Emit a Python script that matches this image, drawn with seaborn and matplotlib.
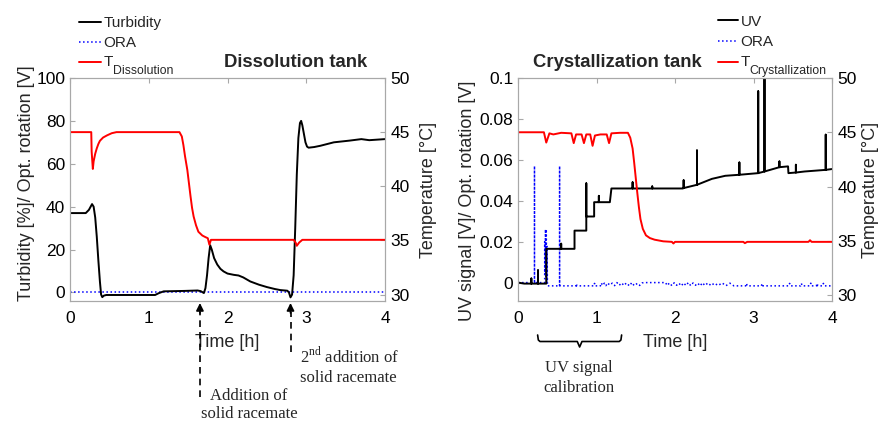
import numpy as np
import pandas as pd
import matplotlib
matplotlib.use("Agg")
import matplotlib.pyplot as plt
import matplotlib.transforms as mtransforms
from matplotlib.lines import Line2D
import seaborn as sns

# ---------------- data: dissolution tank ----------------
turb_t = [0, 0.20, 0.24, 0.28, 0.30, 0.32, 0.34, 0.36, 0.38, 0.395, 0.41, 0.43, 0.46, 1.08, 1.13, 1.19,
          1.45, 1.62, 1.66, 1.70, 1.72, 1.74, 1.76, 1.78, 1.80, 1.83, 1.87, 1.91, 1.95, 2.00, 2.08, 2.14,
          2.20, 2.29, 2.40, 2.50, 2.60, 2.67, 2.76, 2.78, 2.80, 2.82, 2.84, 2.86, 2.88, 2.90, 2.92, 2.935,
          2.95, 2.97, 2.99, 3.01, 3.03, 3.10, 3.18, 3.35, 3.55, 3.70, 3.80, 4.0]
turb_v = [37, 37, 38.5, 41.2, 40, 35, 26, 15, 5, -1, -2.2, -1.5, -1.2, -1.2, -0.3, 0.5,
          0.7, 0.9, 0.6, -0.3, 2, 8, 16, 22, 20, 16, 13, 11, 9.8, 8.8, 8.2, 7.9,
          7.0, 5.1, 3.6, 2.5, 1.6, 1.1, 0.8, 0, -2.3, -1, 8, 30, 55, 72, 79, 80,
          78, 74, 70, 68, 67.5, 67.8, 68.4, 70, 70.8, 71.5, 71, 71.5]

tdis_t = [0, 0.27, 0.275, 0.29, 0.30, 0.32, 0.34, 0.36, 0.38, 0.42, 0.47, 0.53, 0.59, 1.39, 1.42,
          1.44, 1.46, 1.49, 1.51, 1.53, 1.55, 1.57, 1.60, 1.63, 1.68, 1.72, 1.75, 1.77, 1.79, 2.84,
          2.865, 2.88, 2.91, 2.95, 4.0]
tdis_v = [45, 45, 43.2, 41.6, 42.3, 43.0, 43.5, 43.9, 44.2, 44.5, 44.7, 44.9, 45, 45, 44.6,
          43.8, 42.8, 41.5, 40.3, 39.1, 38.0, 37.2, 36.4, 35.8, 35.45, 35.3, 35.2, 34.6, 35.05, 35.05,
          34.8, 34.5, 34.8, 35.05, 35.05]

ora1_t = [0, 4]
ora1_v = [0, 0]

# ---------------- data: crystallization tank ----------------
uv_t = [0, 0.08, 0.17, 0.17, 0.17, 0.255, 0.255, 0.255, 0.36, 0.36, 0.55, 0.55, 0.55, 0.72, 0.72,
        0.87, 0.87, 0.87, 0.97, 0.97, 1.03, 1.03, 1.03, 1.17, 1.19, 1.46, 1.46, 1.46, 1.71, 1.71, 1.71,
        2.10, 2.11, 2.11, 2.11, 2.28, 2.28, 2.28, 2.47, 2.64, 2.82, 2.82, 2.82, 3.06, 3.06, 3.06,
        3.14, 3.14, 3.14, 3.33, 3.33, 3.33, 3.44, 3.445, 3.54, 3.54, 3.54, 3.65, 3.92, 3.92, 3.92, 4.0]
uv_v = [0.0, -0.0005, -0.0005, 0.002, -0.0005, -0.0005, 0.006, -0.0005, -0.0005, 0.0165, 0.0165, 0.019, 0.0165, 0.0165, 0.0254,
        0.0254, 0.0485, 0.0323, 0.0323, 0.0393, 0.0393, 0.0424, 0.0393, 0.0393, 0.046, 0.046, 0.049, 0.046, 0.046, 0.047, 0.046,
        0.046, 0.0462, 0.050, 0.0462, 0.0478, 0.0646, 0.0478, 0.0507, 0.0522, 0.0527, 0.0587, 0.0527, 0.0535, 0.0935, 0.0535,
        0.0543, 0.1, 0.0543, 0.0564, 0.0592, 0.0564, 0.0568, 0.0535, 0.0538, 0.0576, 0.0538, 0.0543, 0.0551, 0.0723, 0.0551, 0.0555]

ora2_t = [0, 0.21, 0.21, 0.21, 0.34, 0.34, 0.345, 0.35, 0.355, 0.36, 0.365, 0.37, 0.375, 0.53, 0.53, 0.53,
          0.74, 0.745, 0.75, 0.97, 0.975, 0.98, 1.05, 1.06, 1.08, 1.10, 1.12, 1.14, 1.17, 1.20, 1.23, 1.26,
          1.29, 1.32, 1.35, 1.38, 1.42, 1.45, 1.48, 1.52, 1.55, 1.58, 1.60, 1.88, 1.90, 1.93, 1.96, 1.99,
          2.02, 2.05, 2.08, 2.11, 2.14, 2.17, 2.20, 2.23, 2.26, 2.29, 2.32, 2.35, 2.38, 2.42, 2.46, 2.50,
          2.55, 2.60, 2.65, 2.70, 2.75, 2.90, 2.91, 2.92, 3.10, 3.11, 3.12, 3.45, 3.46, 3.47, 3.60, 3.61,
          3.62, 3.72, 3.73, 3.74, 3.80, 3.81, 3.82, 3.88, 3.89, 3.90, 4.0]
ora2_v = [0, 0, 0.057, 0, 0, 0.020, 0.004, 0.026, 0.003, 0.026, 0.0, 0.018, -0.0016, -0.0016, 0.057, -0.0016,
          -0.0016, -0.0005, -0.0016, -0.0016, -0.0004, -0.0016, -0.0016, -0.0002, -0.0014, -0.0003, -0.0015, -0.0002, -0.0012, -0.0003, -0.0015, 0.0,
          -0.0013, -0.0002, -0.0014, -0.0002, -0.0016, 0.0, -0.0015, -0.0004, -0.0014, -0.0002, 0.0, 0.0, -0.0014, -0.0002, -0.0015, -0.0001,
          -0.0013, -0.0003, -0.0016, -0.0002, -0.0014, 0.0, -0.0015, -0.0002, -0.0013, -0.0003, -0.0016, -0.0001, -0.0014, -0.0002, -0.0015, -0.0003,
          -0.0014, -0.0002, -0.0015, -0.0003, -0.0016, -0.0016, -0.0004, -0.0016, -0.0016, -0.0005, -0.0016, -0.0016, -0.0004, -0.0016, -0.0016, -0.0004,
          -0.0016, -0.0016, -0.0003, -0.0016, -0.0016, -0.0004, -0.0016, -0.0016, -0.0004, -0.0016, -0.0016]

tcry_t = [0, 0.33, 0.36, 0.40, 0.45, 0.55, 0.68, 0.71, 0.74, 0.81, 0.84, 0.87, 0.92, 0.95, 0.98, 1.05,
          1.13, 1.16, 1.19, 1.30, 1.40, 1.43, 1.46, 1.48, 1.50, 1.52, 1.54, 1.56, 1.59, 1.63, 1.68, 1.74,
          1.85, 1.96, 1.98, 2.00, 2.87, 2.89, 2.92, 3.70, 3.72, 3.74, 4.0]
tcry_v = [45, 45, 44.05, 44.9, 44.8, 44.95, 44.9, 44.0, 44.8, 44.8, 44.0, 44.8, 44.8, 43.75, 44.7, 44.8,
          44.8, 44.0, 44.9, 44.95, 44.95, 44.5, 43.5, 42.2, 40.8, 39.4, 38.1, 37.0, 36.1, 35.5, 35.25, 35.1,
          34.95, 34.9, 34.75, 34.9, 34.9, 34.78, 34.9, 34.9, 35.05, 34.9, 34.9]

# ---------------- style ----------------
sns.set_style("white")
plt.rcParams['font.family'] = ['Liberation Sans', 'DejaVu Sans']
plt.rcParams['mathtext.fontset'] = 'custom'
plt.rcParams['mathtext.rm'] = 'Liberation Serif'
plt.rcParams['mathtext.sf'] = 'Liberation Sans'

W, H = 880, 422
fig = plt.figure(figsize=(8.8, 4.22), dpi=100)
SPINE = '#a8a8a8'
TICKFS = 12.5
LABFS = 13
BLUE = '#0000ff'
RED = '#ff0000'

def fx(px):
    return px / W

def fy(py):
    return 1 - py / H

def style_axes(ax, twin):
    for s in ax.spines.values():
        s.set_color(SPINE)
        s.set_linewidth(0.8)
    ax.tick_params(axis='both', direction='in', color=SPINE, length=3.5, width=0.8,
                   labelsize=TICKFS, labelcolor='black')
    ax.tick_params(axis='x', top=True, pad=7)
    ax.tick_params(axis='y', pad=3.5)
    twin.tick_params(axis='y', direction='in', color=SPINE, length=3.5, width=0.8,
                     labelsize=TICKFS, labelcolor='black', pad=4)
    for s in twin.spines.values():
        s.set_color(SPINE)
        s.set_linewidth(0.8)

axL = fig.add_axes([fx(70), fy(301), fx(315), 223 / H])
axLt = axL.twinx()
axR = fig.add_axes([fx(518), fy(301), fx(314), 223 / H])
axRt = axR.twinx()

# left panel lines
sns.lineplot(x=ora1_t, y=ora1_v, ax=axL, color=BLUE, linestyle=':', linewidth=1.1,
             estimator=None, sort=False)
sns.lineplot(x=turb_t, y=turb_v, ax=axL, color='black', linewidth=1.4, estimator=None, sort=False)
sns.lineplot(x=tdis_t, y=tdis_v, ax=axLt, color=RED, linewidth=1.4, estimator=None, sort=False)

# right panel lines
sns.lineplot(x=ora2_t, y=ora2_v, ax=axR, color=BLUE, linestyle=':', linewidth=1.1,
             estimator=None, sort=False)
sns.lineplot(x=uv_t, y=uv_v, ax=axR, color='black', linewidth=1.4, estimator=None, sort=False)
sns.lineplot(x=tcry_t, y=tcry_v, ax=axRt, color=RED, linewidth=1.4, estimator=None, sort=False)

axL.set_xlim(0, 4)
axL.set_ylim(-4, 100)
axLt.set_ylim(29.4, 50)
axR.set_xlim(0, 4)
axR.set_ylim(-0.009, 0.1)
axRt.set_ylim(29.45, 50)

axL.set_xticks([0, 1, 2, 3, 4])
axL.set_yticks([0, 20, 40, 60, 80, 100])
axLt.set_yticks([30, 35, 40, 45, 50])
axR.set_xticks([0, 1, 2, 3, 4])
axR.set_yticks([0, 0.02, 0.04, 0.06, 0.08, 0.1])
axR.set_yticklabels(['0', '0.02', '0.04', '0.06', '0.08', '0.1'])
axRt.set_yticks([30, 35, 40, 45, 50])

for a, t in ((axL, axLt), (axR, axRt)):
    style_axes(a, t)

axL.set_xlabel('Time [h]', fontsize=LABFS)
axL.xaxis.set_label_coords(0.5, -0.15)
axL.set_ylabel('Turbidity [%]/ Opt. rotation [V]', fontsize=LABFS)
axL.yaxis.set_label_coords(-0.11, 0.53)
axLt.set_ylabel('Temperature [°C]', fontsize=LABFS)
axLt.yaxis.set_label_coords(1.11, 0.5)

axR.set_xlabel('Time [h]', fontsize=LABFS)
axR.xaxis.set_label_coords(0.5, -0.15)
axR.set_ylabel('UV signal [V]/ Opt. rotation [V]', fontsize=LABFS)
axR.yaxis.set_label_coords(-0.134, 0.45)
axRt.set_ylabel('Temperature [°C]', fontsize=LABFS)
axRt.yaxis.set_label_coords(1.097, 0.5)

# titles
fig.text(fx(296), fy(63), 'Dissolution tank', ha='center', va='center', fontsize=13.3, fontweight='bold')
fig.text(fx(617), fy(63), 'Crystallization tank', ha='center', va='center', fontsize=13.3, fontweight='bold')

# legends (drawn manually to match the subscript sizing)
def legend_block(x0, x1, rows, labels, sub):
    styles = [dict(color='black', lw=1.4, ls='-'), dict(color=BLUE, lw=1.1, ls=':'),
              dict(color=RED, lw=1.4, ls='-')]
    for (ly, base), lab, st in zip(rows, labels, styles):
        fig.add_artist(Line2D([fx(x0), fx(x1)], [fy(ly), fy(ly)], transform=fig.transFigure,
                              color=st['color'], lw=st['lw'], linestyle=st['ls']))
        fig.text(fx(x1 + 2.5), fy(base), lab, ha='left', va='baseline', fontsize=11)
    ly, base = rows[2]
    fig.text(fx(x1 + 11.5), fy(base + 8), sub, ha='left', va='baseline', fontsize=8.8)

legend_block(78.5, 101, [(21.5, 27), (42, 46.7), (62, 66.5)], ['Turbidity', 'ORA', 'T'], 'Dissolution')
legend_block(717.5, 738, [(19.5, 26), (41, 46), (62, 66)], ['UV', 'ORA', 'T'], 'Crystallization')

# annotations (left panel)
serif = ['Liberation Serif', 'DejaVu Serif']
blendL = mtransforms.blended_transform_factory(axL.transData, fig.transFigure)
for t_arrow, y_tail in ((1.65, 397), (2.80, 352)):
    axL.add_line(Line2D([t_arrow, t_arrow], [fy(y_tail), fy(312)], transform=blendL,
                        color='black', lw=1.2, linestyle=(0, (4, 3)), clip_on=False))
    axL.annotate('', xy=(t_arrow, fy(303)), xytext=(t_arrow, fy(313)), xycoords=blendL,
                 textcoords=blendL, annotation_clip=False,
                 arrowprops=dict(arrowstyle='-|>', color='black', lw=1.2, mutation_scale=11,
                                 shrinkA=0, shrinkB=0))

fig.text(fx(249), fy(405), 'Addition of\nsolid racemate', ha='center', va='center',
         fontsize=12, family=serif, linespacing=1.2)
fig.text(fx(300), fy(366), '2$^{\\mathrm{nd}}$ addition of\nsolid racemate', ha='left', va='center',
         fontsize=12, family=serif, linespacing=1.25)

# brace (right panel)
blendR = mtransforms.blended_transform_factory(axR.transData, fig.transFigure)
bx0, bx1, bxc = 0.25, 1.32, 0.785
dx = 0.03
brace_x = [bx0, bx0 + dx * 0.3, bx0 + dx, bxc - dx, bxc, bxc + dx, bx1 - dx, bx1 - dx * 0.3, bx1]
brace_y = [fy(335), fy(340), fy(341.5), fy(341.5), fy(347), fy(341.5), fy(341.5), fy(340), fy(335)]
axR.add_line(Line2D(brace_x, brace_y, transform=blendR, color='black', lw=1.2, clip_on=False))
fig.text(fx(579), fy(378), 'UV signal\ncalibration', ha='center', va='center',
         fontsize=12, family=serif, linespacing=1.25)

fig.savefig('out.png', dpi=100)
